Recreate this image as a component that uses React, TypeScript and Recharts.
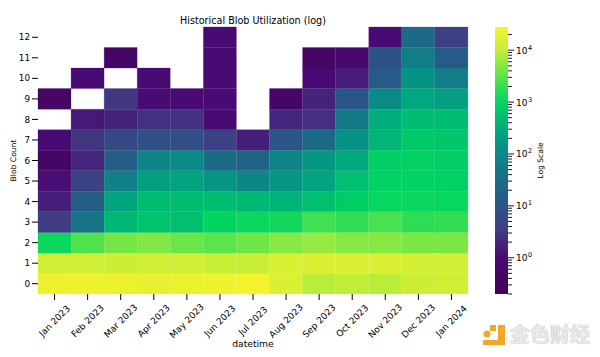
import React from "react";
import { Bar, BarChart, Cell, XAxis, YAxis } from "recharts";

const months = [
  "Jan 2023", "Feb 2023", "Mar 2023", "Apr 2023", "May 2023", "Jun 2023", "Jul 2023",
  "Aug 2023", "Sep 2023", "Oct 2023", "Nov 2023", "Dec 2023", "Jan 2024",
];
const blobCounts = [0, 1, 2, 3, 4, 5, 6, 7, 8, 9, 10, 11, 12];

// monthly totals for each blob count
const blob0 = [24000, 25000, 23500, 21500, 22500, 25000, 27000, 16000, 9000, 9500, 9000, 12000, 13000];
const blob1 = [13000, 13000, 12000, 12500, 13000, 11000, 11000, 16000, 16500, 16000, 16000, 14000, 14000];
const blob2 = [1150, 2800, 4200, 4800, 3800, 3200, 4000, 5200, 6000, 5200, 5200, 4500, 4500];
const blob3 = [3.5, 40, 450, 630, 560, 1000, 1150, 1250, 2250, 1900, 2500, 1800, 1900];
const blob4 = [1.6, 14, 250, 500, 500, 520, 450, 400, 560, 800, 1100, 1150, 1100];
const blob5 = [1.1, 4.5, 70, 220, 250, 160, 90, 160, 250, 550, 950, 950, 900];
const blob6 = [0.5, 2, 15, 80, 100, 28, 20, 80, 160, 300, 850, 900, 850];
const blob7 = [1, 3, 6, 7.5, 7.5, 4, 1.6, 10, 25, 130, 420, 740, 700];
const blob8 = [null, 1.4, 1.8, 2.5, 2.5, 1, null, 2, 2.5, 50, 350, 520, 520];
const blob9 = [0.5, null, 3, 1, 1, 1, null, 0.5, 1.8, 10, 100, 280, 210];
const blob10 = [null, 1, null, 1, null, 1, null, null, 1, 1.5, 12, 140, 60];
const blob11 = [null, null, 0.5, null, null, 1, null, null, 0.5, 0.8, 9, 60, 13];
const blob12 = [null, null, null, null, null, 1, null, null, null, null, 1, 26, 4];
const rows = [blob0, blob1, blob2, blob3, blob4, blob5, blob6, blob7, blob8, blob9, blob10, blob11, blob12];

const colorMin = 0.2;
const colorMax = 28000;
const mantissas = [1, 2, 3, 4, 5, 6, 7, 8, 9];
const scaleTicks = [0.2, 0.3, 0.4, 0.5, 0.6, 0.7, 0.8, 0.9]
  .concat(mantissas, mantissas.map((m) => m * 10), mantissas.map((m) => m * 100), mantissas.map((m) => m * 1000), [10000, 20000]);

// colour ramp sampled from the colour bar: [log10 value, rgb]
const ramp: [number, number[]][] = [
  [-0.7, [68, 1, 84]],
  [0, [72, 10, 115]],
  [0.5, [66, 58, 131]],
  [1, [42, 86, 135]],
  [1.5, [25, 110, 135]],
  [2, [10, 138, 135]],
  [2.5, [0, 170, 125]],
  [3, [0, 213, 97]],
  [3.5, [90, 228, 75]],
  [4, [195, 238, 55]],
  [4.45, [245, 242, 45]],
];

const toHex = (c: number[]) => `rgb(${c.map(Math.round).join(",")})`;

const colorOf = (value: number) => {
  const v = Math.log10(value);
  for (let i = 1; i < ramp.length; i++) {
    if (v <= ramp[i][0]) {
      const [a, ca] = ramp[i - 1];
      const [b, cb] = ramp[i];
      const t = Math.max(0, (v - a) / (b - a));
      return toHex(ca.map((c, k) => c + (cb[k] - c) * t));
    }
  }
  return toHex(ramp[ramp.length - 1][1]);
};

// every cell is one unit tall, colour carries the value
const chartData = months.map((month) => {
  const row: Record<string, string | number> = { month };
  blobCounts.forEach((b) => {
    row[`b${b}`] = 1;
  });
  return row;
});

const font = "'DejaVu Sans', sans-serif";

const MonthTick = ({ x, y, payload }: any) => (
  <g transform={`translate(${x},${y + 19}) rotate(-45)`}>
    <text textAnchor="middle" dominantBaseline="central" fontSize={9} fontFamily={font} fill="#000">
      {payload.value}
    </text>
  </g>
);

const ScaleTick = ({ x, y, payload }: any) => {
  const exp = Math.log10(payload.value);
  const major = Math.abs(exp - Math.round(exp)) < 1e-6;
  return (
    <g>
      <line x1={x} x2={x + (major ? 6 : 4)} y1={y} y2={y} stroke="#000" strokeWidth={0.9} />
      {major && (
        <text x={x + 8} y={y + 3.5} fontSize={9} fontFamily={font} fill="#000">
          10
          <tspan dx={0.5} dy={-4} fontSize={6.5}>
            {Math.round(exp)}
          </tspan>
        </text>
      )}
    </g>
  );
};

const App = () => (
  <div style={{ position: "absolute", left: 0, top: 0, width: 600, height: 357, background: "#fff", overflow: "hidden" }}>
    <div style={{ position: "absolute", left: 0, top: 0 }}>
      <BarChart
        width={600}
        height={357}
        data={chartData}
        barCategoryGap={0}
        margin={{ top: 27, right: 132, bottom: 0, left: 0 }}
      >
        <XAxis
          dataKey="month"
          height={63}
          interval={0}
          axisLine={false}
          tickLine={{ stroke: "#000" }}
          tickSize={6}
          tick={<MonthTick />}
          label={{ value: "datetime", position: "insideBottom", offset: 10, fontSize: 9.2, fontFamily: font, fill: "#000" }}
        />
        <YAxis
          type="number"
          width={38}
          domain={[0, 13]}
          ticks={blobCounts.map((b) => b + 0.5)}
          interval={0}
          axisLine={false}
          tickLine={{ stroke: "#000" }}
          tickSize={6}
          tickMargin={2}
          tickFormatter={(_v: number, i: number) => String(blobCounts[i])}
          tick={{ fontSize: 8.8, fontFamily: font, fill: "#000" }}
          label={{ value: "Blob Count", angle: -90, position: "insideLeft", offset: 13, fontSize: 7.6, fontFamily: font, fill: "#000", style: { textAnchor: "middle" } }}
        />
        {blobCounts.map((b, r) => (
          <Bar key={b} dataKey={`b${b}`} stackId="cells" isAnimationActive={false}>
            {months.map((m, c) => {
              const value = rows[r][c];
              const fill = value == null ? "none" : colorOf(value);
              return <Cell key={m} fill={fill} stroke={fill} strokeWidth={0.25} />;
            })}
          </Bar>
        ))}
        <text x={253} y={24} textAnchor="middle" fontSize={9.65} fontFamily={font} fill="#000">
          Historical Blob Utilization (log)
        </text>
      </BarChart>
    </div>

    <div style={{ position: "absolute", left: 487, top: 0 }}>
      <BarChart
        width={113}
        height={357}
        data={[{ name: "scale", top: colorMax }]}
        barCategoryGap={0}
        margin={{ top: 27, right: 0, bottom: 63, left: 8 }}
      >
        <defs>
          <linearGradient id="logScale" x1="0" y1="1" x2="0" y2="0">
            {ramp.map(([v, c]) => (
              <stop
                key={v}
                offset={(v - Math.log10(colorMin)) / (Math.log10(colorMax) - Math.log10(colorMin))}
                stopColor={toHex(c)}
              />
            ))}
          </linearGradient>
        </defs>
        <XAxis dataKey="name" hide />
        <YAxis
          orientation="right"
          scale="log"
          type="number"
          width={92}
          domain={[colorMin, colorMax]}
          allowDataOverflow
          ticks={scaleTicks}
          interval={0}
          axisLine={false}
          tickLine={false}
          tickSize={0}
          tickMargin={0}
          tick={<ScaleTick />}
          label={{ value: "Log Scale", angle: -90, position: "insideRight", offset: 60, fontSize: 7.6, fontFamily: font, fill: "#000", style: { textAnchor: "middle" } }}
        />
        <Bar dataKey="top" fill="url(#logScale)" isAnimationActive={false} />
      </BarChart>
    </div>

    <svg style={{ position: "absolute", left: 480, top: 320 }} width={30} height={30}>
      <path d="M18 5 h7 v20 h-22 v-5 h15 z" fill="#f2a62a" />
      <rect x={10} y={5} width={6} height={6} fill="#f2a62a" />
      <circle cx={7} cy={14} r={3.5} fill="#f2a62a" />
    </svg>
    <div
      style={{
        position: "absolute",
        left: 510,
        top: 322,
        fontFamily: "'Noto Sans CJK SC', sans-serif",
        fontSize: 20,
        lineHeight: "24px",
        fontWeight: 700,
        color: "#e9e9e9",
        textShadow: "0 0 1px #999",
        whiteSpace: "nowrap",
      }}
    >
      金色财经
    </div>
  </div>
);

export default App;
